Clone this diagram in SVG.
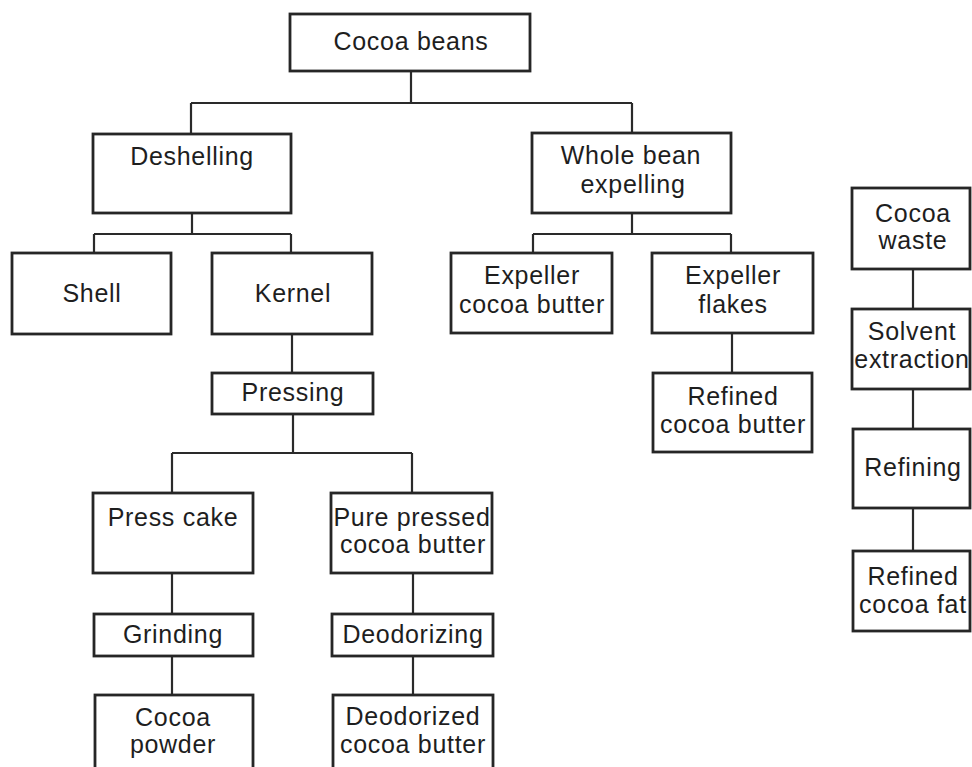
<svg xmlns="http://www.w3.org/2000/svg" width="972" height="767" viewBox="0 0 972 767">
<style>
.box{fill:#fff;stroke:#262626;stroke-width:2.8}
.lbl{font-family:"Liberation Sans",Arial,sans-serif;font-size:25px;letter-spacing:0.7px;fill:#1e1e1e;text-anchor:middle}
.con{fill:none;stroke:#2a2a2a;stroke-width:2.2}
</style>
<rect width="972" height="767" fill="#fff"/>
<g id="connectors">
<path class="con" d="M411,71V103M191,103H632M191,103V134M632,103V133"/>
<path class="con" d="M192,213V234M94,234H291M94,234V253M291,234V253"/>
<path class="con" d="M632,213V234M533,234H731M533,234V253M731,234V253"/>
<path class="con" d="M292,334V373"/>
<path class="con" d="M293,414V453M172,453H412M172,453V493M412,453V493"/>
<path class="con" d="M732,333V373"/>
<path class="con" d="M913,269V309M913,389V429M913,508V551"/>
<path class="con" d="M172,573V614M172,656V695M413,573V614M413,656V695"/>
</g>
<g id="cocoa-beans"><rect class="box" x="290" y="14" width="240" height="57"/><text class="lbl" x="411" y="50">Cocoa beans</text></g>
<g id="deshelling"><rect class="box" x="93" y="134" width="198" height="79"/><text class="lbl" x="192" y="165">Deshelling</text></g>
<g id="whole-bean"><rect class="box" x="532" y="133" width="199" height="80"/><text class="lbl" x="631" y="164">Whole bean</text><text class="lbl" x="633" y="193">expelling</text></g>
<g id="shell"><rect class="box" x="12" y="253" width="159" height="81"/><text class="lbl" x="92" y="302">Shell</text></g>
<g id="kernel"><rect class="box" x="212" y="253" width="160" height="81"/><text class="lbl" x="293" y="302">Kernel</text></g>
<g id="expeller-cocoa-butter"><rect class="box" x="451" y="253" width="161" height="80"/><text class="lbl" x="532" y="284">Expeller</text><text class="lbl" x="532" y="313">cocoa butter</text></g>
<g id="expeller-flakes"><rect class="box" x="652" y="253" width="161" height="80"/><text class="lbl" x="733" y="284">Expeller</text><text class="lbl" x="733" y="313">flakes</text></g>
<g id="pressing"><rect class="box" x="212" y="373" width="161" height="41"/><text class="lbl" x="293" y="401">Pressing</text></g>
<g id="refined-cocoa-butter"><rect class="box" x="653" y="373" width="159" height="79"/><text class="lbl" x="733" y="405">Refined</text><text class="lbl" x="733" y="433">cocoa butter</text></g>
<g id="cocoa-waste"><rect class="box" x="852" y="188" width="118" height="81"/><text class="lbl" x="913" y="222">Cocoa</text><text class="lbl" x="913" y="249">waste</text></g>
<g id="solvent-extraction"><rect class="box" x="852" y="309" width="118" height="80"/><text class="lbl" x="912" y="340">Solvent</text><text class="lbl" x="912" y="368">extraction</text></g>
<g id="refining"><rect class="box" x="853" y="429" width="117" height="79"/><text class="lbl" x="913" y="476">Refining</text></g>
<g id="refined-cocoa-fat"><rect class="box" x="853" y="551" width="117" height="80"/><text class="lbl" x="913" y="585">Refined</text><text class="lbl" x="913" y="613">cocoa fat</text></g>
<g id="press-cake"><rect class="box" x="93" y="493" width="160" height="80"/><text class="lbl" x="173" y="526">Press cake</text></g>
<g id="pure-pressed"><rect class="box" x="331" y="493" width="161" height="80"/><text class="lbl" x="412" y="526">Pure pressed</text><text class="lbl" x="413" y="553">cocoa butter</text></g>
<g id="grinding"><rect class="box" x="94" y="614" width="159" height="42"/><text class="lbl" x="173" y="643">Grinding</text></g>
<g id="deodorizing"><rect class="box" x="332" y="614" width="161" height="42"/><text class="lbl" x="413" y="643">Deodorizing</text></g>
<g id="cocoa-powder"><rect class="box" x="95" y="695" width="158" height="95"/><text class="lbl" x="173" y="726">Cocoa</text><text class="lbl" x="173" y="753">powder</text></g>
<g id="deodorized-cocoa-butter"><rect class="box" x="333" y="695" width="160" height="95"/><text class="lbl" x="413" y="725">Deodorized</text><text class="lbl" x="413" y="753">cocoa butter</text></g>
</svg>
